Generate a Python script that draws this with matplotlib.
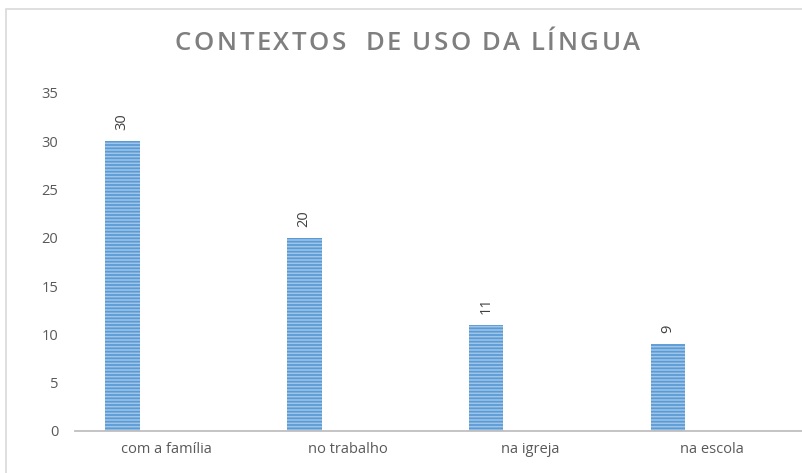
import matplotlib.pyplot as plt
from matplotlib.patches import Rectangle

# chart data
categories = ['com a família', 'no trabalho', 'na igreja', 'na escola']
values = [30, 20, 11, 9]
yticks = [0, 5, 10, 15, 20, 25, 30, 35]
title = 'CONTEXTOS  DE USO DA LÍNGUA'

plt.rcParams['font.family'] = ['Open Sans', 'DejaVu Sans']
plt.rcParams['hatch.linewidth'] = 1.3

W, H = 802, 473
fig = plt.figure(figsize=(W / 100, H / 100), dpi=100)
ax = fig.add_axes([0.0935, 0.0888, 0.9075, 0.7146])

# light grey frame around the chart area
fig.patches.append(Rectangle((6 / W, -0.05), 1.1, (H - 9) / H + 0.05,
                             transform=fig.transFigure, fill=False,
                             edgecolor='#D9D9D9', linewidth=1.2))

x = range(len(categories))
pos = [i - 0.24 for i in x]
bars = ax.bar(pos, values, width=0.19, color='#9FC5E8', edgecolor='#5B9BD5',
              linewidth=0, hatch='-----', zorder=2)

for b, v in zip(bars, values):
    ax.annotate(str(v), (b.get_x() + b.get_width() / 2, v),
                xytext=(0, 8), textcoords='offset points',
                rotation=90, ha='center', va='bottom',
                fontsize=10.5, color='#404040')

ax.set_xlim(-0.5, 3.5)
ax.set_ylim(0, 35)
ax.set_yticks(yticks)
ax.set_xticks(list(x))
ax.set_xticklabels(categories)

for s in ['top', 'right', 'left']:
    ax.spines[s].set_visible(False)
ax.spines['bottom'].set_color('#BFBFBF')
ax.spines['bottom'].set_linewidth(1.3)
ax.tick_params(axis='both', length=0, colors='#595959', labelsize=10.5)
ax.tick_params(axis='y', pad=12)
ax.tick_params(axis='x', pad=8)

# title with letter spacing, drawn char by char
renderer = fig.canvas.get_renderer()
tstyle = dict(fontsize=18.5, fontweight='semibold', color='#7F7F7F', va='center', ha='left')
widths = []
for ch in title:
    t = fig.text(0, 0, ch if ch != ' ' else 'n', **tstyle)
    w = t.get_window_extent(renderer).width
    if ch == ' ':
        w *= 0.35
    widths.append(w)
    t.remove()
x0, x1 = 175, 640
gap = ((x1 - x0) - sum(widths)) / (len(title) - 1)
cx = x0
for ch, w in zip(title, widths):
    if ch != ' ':
        fig.text(cx / W, 1 - 43 / H, ch, **tstyle)
    cx += w + gap

fig.savefig('out.png', dpi=100)
